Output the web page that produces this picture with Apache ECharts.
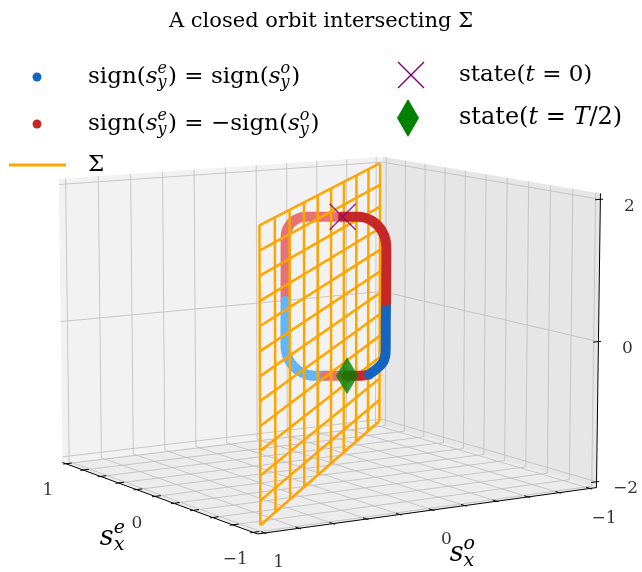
<!DOCTYPE html>
<html><head><meta charset="utf-8">
<script src="https://cdn.jsdelivr.net/npm/echarts@6.0.0/dist/echarts.min.js"></script>
<style>html,body{margin:0;padding:0;background:#fff}#c{width:642px;height:572px}</style>
</head><body><div id="c"></div>
<script>
// ================= DATA =================
const sxeTicks = [-1, -0.8, -0.6, -0.4, -0.2, 0, 0.2, 0.4, 0.6, 0.8, 1];
const sxoTicks = [-1, -0.8, -0.6, -0.4, -0.2, 0, 0.2, 0.4, 0.6, 0.8, 1];
const dsyTicks = [-2, 0, 2];
const sxeTickLabels = [1, 0, -1];
const sxoTickLabels = [1, 0, -1];
const dsyTickLabels = [2, 0, -2];
const sxeLim = [-1, 1], sxoLim = [-1, 1], dsyLim = [-2, 2];
// Sigma plane: s_x^e = a, s_x^o = -a
const sigmaA = [-1, -0.778, -0.556, -0.333, -0.111, 0.111, 0.333, 0.556, 0.778, 1];
const sigmaZ = [-2, -1.667, -1.333, -1, -0.667, -0.333, 0, 0.333, 0.667, 1, 1.333, 1.667, 2];
// closed orbit (s_x^e, s_x^o, s_y^e - s_y^o); sign: +1 same sign, -1 opposite sign
const orbitSxe = [0.31, 0.361, 0.415, 0.446, 0.472, 0.486, 0.507, 0.526, 0.539, 0.553, 0.550, 0.525, 0.486, 0.454, 0.425, 0.39, 0.359, 0.348, 0.324, 0.279, 0.262, 0.247, 0.234, 0.220, 0.201, 0.204, 0.228, 0.268];
const orbitSxo = [-0.31, -0.229, -0.142, -0.095, -0.063, -0.054, -0.066, -0.077, -0.084, -0.093, -0.116, -0.168, -0.237, -0.288, -0.334, -0.39, -0.440, -0.458, -0.492, -0.551, -0.561, -0.551, -0.544, -0.535, -0.523, -0.500, -0.447, -0.378];
const orbitDsy = [1.50, 1.50, 1.50, 1.46, 1.35, 1.20, 0.70, 0.24, -0.10, -0.45, -0.67, -0.83, -0.895, -0.895, -0.895, -0.895, -0.895, -0.895, -0.875, -0.70, -0.50, -0.10, 0.23, 0.60, 1.05, 1.275, 1.44, 1.50];
const orbitSign = [-1, -1, -1, -1, -1, -1, -1, 1, 1, 1, 1, 1, 1, -1, -1, -1, -1, -1, 1, 1, 1, 1, -1, -1, -1, -1, -1, -1];
const idxState0 = 0, idxStateHalf = 15;

// ================= PROJECTION (matplotlib-like perspective 3D view) =================
const W = 642, H = 572;
const FONT = '"DejaVu Serif"';
const ELEV = 9.25, AZIM = 148;               // view angles
const SCALE = 3277.5, CX = 324.5, CY = 331.4; // projected-plane placement
const PE = [1 + 2 / 48, 1 + 2 / 48, 2 + 4 / 48]; // pane extents (limits + padding)
function makeProjector(elev, azim) {
  const nn = Math.hypot(4, 4, 3);
  const asp = [4, 4, 3].map(v => v * 1.8294640721620434 / nn);
  const R = asp.map(v => v / 2);
  const e = elev * Math.PI / 180, a = azim * Math.PI / 180;
  const w = [Math.cos(e) * Math.cos(a), Math.cos(e) * Math.sin(a), Math.sin(e)];
  const dist = 10;
  const eye = R.map((r, i) => r + dist * w[i]);
  let u = [-w[1], w[0], 0]; const un = Math.hypot(u[0], u[1]); u = u.map(t => t / un);
  const v = [w[1] * u[2] - w[2] * u[1], w[2] * u[0] - w[0] * u[2], w[0] * u[1] - w[1] * u[0]];
  return function (x, y, z) {
    const p = [(x - sxeLim[0]) / (sxeLim[1] - sxeLim[0]) * asp[0],
               (y - sxoLim[0]) / (sxoLim[1] - sxoLim[0]) * asp[1],
               (z - dsyLim[0]) / (dsyLim[1] - dsyLim[0]) * asp[2]];
    const d = [p[0] - eye[0], p[1] - eye[1], p[2] - eye[2]];
    const xv = u[0] * d[0] + u[1] * d[1] + u[2] * d[2];
    const yv = v[0] * d[0] + v[1] * d[1] + v[2] * d[2];
    const zv = w[0] * d[0] + w[1] * d[1] + w[2] * d[2];
    return [xv / (-zv), yv / (-zv)];
  };
}
const pj = makeProjector(ELEV, AZIM);
const xMin = -CX / SCALE, xMax = (W - CX) / SCALE;
const yMin = (CY - H) / SCALE, yMax = CY / SCALE;

// ================= BUILD SERIES =================
const segs = (list) => list.map(l => ({ coords: l.map(p => pj(p[0], p[1], p[2])) }));
const panes = [
  { pts: [[PE[0], PE[1], -PE[2]], [-PE[0], PE[1], -PE[2]], [-PE[0], -PE[1], -PE[2]], [PE[0], -PE[1], -PE[2]]], fill: '#ececec' },
  { pts: [[PE[0], PE[1], -PE[2]], [PE[0], -PE[1], -PE[2]], [PE[0], -PE[1], PE[2]], [PE[0], PE[1], PE[2]]], fill: '#f2f2f2' },
  { pts: [[PE[0], -PE[1], -PE[2]], [-PE[0], -PE[1], -PE[2]], [-PE[0], -PE[1], PE[2]], [PE[0], -PE[1], PE[2]]], fill: '#e6e6e6' }
];
const gridLines = [];
sxeTicks.forEach(t => gridLines.push([[t, PE[1], -PE[2]], [t, -PE[1], -PE[2]], [t, -PE[1], PE[2]]]));
sxoTicks.forEach(t => gridLines.push([[-PE[0], t, -PE[2]], [PE[0], t, -PE[2]], [PE[0], t, PE[2]]]));
dsyTicks.forEach(t => gridLines.push([[PE[0], PE[1], t], [PE[0], -PE[1], t], [-PE[0], -PE[1], t]]));
const axisLines = [
  [[PE[0], PE[1], -PE[2]], [-PE[0], PE[1], -PE[2]]],
  [[-PE[0], PE[1], -PE[2]], [-PE[0], -PE[1], -PE[2]]],
  [[-PE[0], -PE[1], -PE[2]], [-PE[0], -PE[1], PE[2]]]
];
const dd = 2 * PE[0] / 12;
sxeTicks.forEach(t => axisLines.push([[t, PE[1] - 0.2 * dd, -PE[2]], [t, PE[1] + 0.1 * dd, -PE[2]]]));
sxoTicks.forEach(t => axisLines.push([[-PE[0] + 0.2 * dd, t, -PE[2]], [-PE[0] - 0.1 * dd, t, -PE[2]]]));
dsyTicks.forEach(t => axisLines.push([[-PE[0], -PE[1] + 0.2 * dd, t], [-PE[0], -PE[1] - 0.1 * dd, t]]));
const sigmaLines = [];
sigmaA.forEach(a => sigmaLines.push([[a, -a, dsyLim[0]], [a, -a, dsyLim[1]]]));
sigmaZ.forEach(z => sigmaLines.push([[sxeLim[0], -sxeLim[0], z], [sxeLim[1], -sxeLim[1], z]]));

const fmt = v => (v < 0 ? '\u2212' : '') + Math.abs(v);
const tickLabelData = [];
sxeTickLabels.forEach(t => { const p = pj(t, PE[1], -PE[2]); tickLabelData.push({ value: [p[0], p[1]], name: fmt(t), label: { offset: [-18, 27] } }); });
sxoTickLabels.forEach(t => { const p = pj(-PE[0], t, -PE[2]); tickLabelData.push({ value: [p[0], p[1]], name: fmt(t), label: { offset: [14, 30] } }); });
dsyTickLabels.forEach(t => { const p = pj(-PE[0], -PE[1], t); tickLabelData.push({ value: [p[0], p[1]], name: fmt(t), label: { offset: [29, 7] } }); });

// orbit runs split by sign colour and by side of Sigma (behind = lighter, under the plane)
const nO = orbitSxe.length;
const COLORS = { 'r_back': '#e57373', 'b_back': '#64b5f6', 'r_front': '#c62828', 'b_front': '#1565c0' };
const runs = [];
for (let i = 0; i < nO; i++) {
  const j = (i + 1) % nO;
  const mid = (orbitSxe[i] + orbitSxo[i] + orbitSxe[j] + orbitSxo[j]) / 2;
  const key = (orbitSign[i] > 0 ? 'b' : 'r') + (mid > 0 ? '_back' : '_front');
  const pi = pj(orbitSxe[i], orbitSxo[i], orbitDsy[i]), pjj = pj(orbitSxe[j], orbitSxo[j], orbitDsy[j]);
  const last = runs[runs.length - 1];
  if (last && last.key === key) last.pts.push(pjj);
  else runs.push({ key, pts: [pi, pjj] });
}
const orbitSeries = runs.map(r => ({
  type: 'line', data: r.pts, smooth: 0.3, symbol: 'none', silent: true,
  z: r.key.endsWith('back') ? 4 : 6,
  lineStyle: { color: COLORS[r.key], width: 10, cap: 'round', join: 'round' }
}));

const s0 = pj(orbitSxe[idxState0], orbitSxo[idxState0], orbitDsy[idxState0]);
const sH = pj(orbitSxe[idxStateHalf], orbitSxo[idxStateHalf], orbitDsy[idxStateHalf]);

// ================= MATH TEXT =================
const mctx = document.createElement('canvas').getContext('2d');
function tw(t, size, it) { mctx.font = (it ? 'italic ' : '') + size + 'px ' + FONT; return mctx.measureText(t).width; }
function mathGroup(parts, size, x, y, align, rotation) {
  let cx = 0; const els = [];
  const mk = (t, s, it, px, py) => ({ type: 'text', x: px, y: py, style: { text: t, font: (it ? 'italic ' : '') + s + 'px ' + FONT, fill: '#000', align: 'left', verticalAlign: 'middle' } });
  parts.forEach(p => {
    if (p.sup !== undefined || p.sub !== undefined) {
      const s2 = Math.round(size * 0.7); let w = 0;
      if (p.sup) { els.push(mk(p.sup, s2, true, cx, -size * 0.36)); w = Math.max(w, tw(p.sup, s2, true)); }
      if (p.sub) { els.push(mk(p.sub, s2, true, cx, size * 0.27)); w = Math.max(w, tw(p.sub, s2, true)); }
      cx += w + size * 0.05;
    } else {
      els.push(mk(p.t, size, p.it, cx, 0)); cx += tw(p.t, size, p.it);
    }
  });
  const off = align === 'center' ? -cx / 2 : 0;
  els.forEach(e => e.x += off);
  return { type: 'group', x, y, rotation: rotation || 0, children: els, silent: true };
}
const LEG = 23;
const graphics = [
  { type: 'circle', shape: { cx: 37, cy: 77, r: 4.5 }, style: { fill: '#1565c0' }, silent: true },
  mathGroup([{ t: 'sign(' }, { t: 's', it: true }, { sup: 'e', sub: 'y' }, { t: ') = sign(' }, { t: 's', it: true }, { sup: 'o', sub: 'y' }, { t: ')' }], LEG, 88, 77),
  { type: 'circle', shape: { cx: 37, cy: 124, r: 4.5 }, style: { fill: '#c62828' }, silent: true },
  mathGroup([{ t: 'sign(' }, { t: 's', it: true }, { sup: 'e', sub: 'y' }, { t: ') = \u2212sign(' }, { t: 's', it: true }, { sup: 'o', sub: 'y' }, { t: ')' }], LEG, 88, 124),
  { type: 'line', shape: { x1: 9, y1: 165, x2: 66, y2: 165 }, style: { stroke: '#ffa500', lineWidth: 3 }, silent: true },
  mathGroup([{ t: '\u03a3' }], LEG, 88, 165),
  { type: 'line', shape: { x1: 398, y1: 62, x2: 424, y2: 88 }, style: { stroke: '#800080', lineWidth: 1.5 }, silent: true },
  { type: 'line', shape: { x1: 424, y1: 62, x2: 398, y2: 88 }, style: { stroke: '#800080', lineWidth: 1.5 }, silent: true },
  mathGroup([{ t: 'state(' }, { t: 't', it: true }, { t: ' = 0)' }], LEG, 459, 75),
  { type: 'polygon', shape: { points: [[408, 99], [419, 118], [408, 137], [397, 118]] }, style: { fill: '#008000' }, silent: true },
  mathGroup([{ t: 'state(' }, { t: 't', it: true }, { t: ' = ' }, { t: 'T', it: true }, { t: '/2)' }], 24, 459, 118),
  mathGroup([{ t: 's', it: true }, { sup: 'e', sub: 'x' }], 27, 113, 538, 'center'),
  mathGroup([{ t: 's', it: true }, { sup: 'o', sub: 'x' }], 27, 463, 554, 'center'),
  mathGroup([{ t: 's', it: true }, { sup: 'e', sub: 'y' }, { t: ' \u2212 ' }, { t: 's', it: true }, { sup: 'o', sub: 'y' }], 27, 556, 345, 'center', Math.PI / 2)
];

const chart = echarts.init(document.getElementById('c'), null, { renderer: 'canvas' });
chart.setOption({
  animation: false,
  backgroundColor: '#ffffff',
  title: { text: 'A closed orbit intersecting \u03a3', left: 'center', top: 6, textStyle: { fontFamily: FONT, fontWeight: 'normal', fontSize: 21, color: '#000' } },
  grid: { left: 0, right: 0, top: 0, bottom: 0, containLabel: false },
  xAxis: { type: 'value', min: xMin, max: xMax, show: false },
  yAxis: { type: 'value', min: yMin, max: yMax, show: false },
  series: [
    { type: 'custom', silent: true, z: 1, data: panes.map((p, i) => [0, 0, i]),
      renderItem: (params, api) => {
        const pn = panes[params.dataIndex];
        return { type: 'polygon', shape: { points: pn.pts.map(q => api.coord(pj(q[0], q[1], q[2]))) }, style: { fill: pn.fill } };
      } },
    { type: 'lines', coordinateSystem: 'cartesian2d', polyline: true, silent: true, z: 2, data: segs(gridLines), lineStyle: { color: '#bdbdbd', width: 0.8, opacity: 1 } },
    { type: 'lines', coordinateSystem: 'cartesian2d', polyline: true, silent: true, z: 3, data: segs(axisLines), lineStyle: { color: '#000', width: 1, opacity: 1 } },
    { type: 'scatter', silent: true, z: 3, symbolSize: 0, data: tickLabelData,
      label: { show: true, position: 'inside', formatter: p => p.name, fontFamily: FONT, fontSize: 17, color: '#000' } },
    { type: 'lines', coordinateSystem: 'cartesian2d', polyline: true, silent: true, z: 5, data: segs(sigmaLines), lineStyle: { color: '#ffa500', width: 2.5, opacity: 1 } },
    ...orbitSeries,
    { type: 'scatter', silent: true, z: 7, data: [s0], symbol: 'path://M0,0L10,10M10,0L0,10', symbolSize: 26,
      itemStyle: { color: 'none', borderColor: '#800080', borderWidth: 1.5 } },
    { type: 'scatter', silent: true, z: 7, data: [sH], symbol: 'diamond', symbolSize: [22, 37], itemStyle: { color: '#008000' } }
  ],
  graphic: graphics
});
</script>
</body></html>
